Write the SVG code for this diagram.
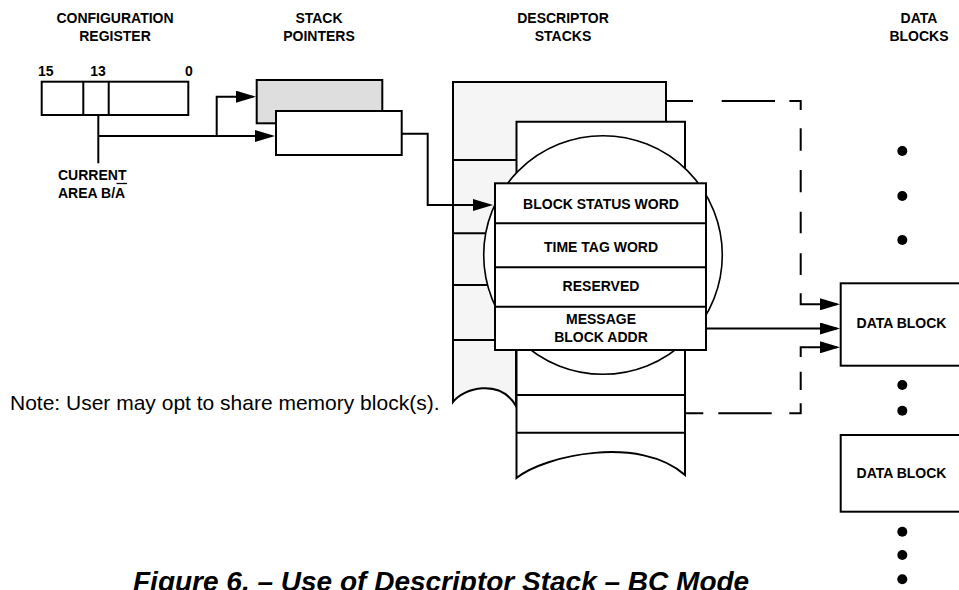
<svg xmlns="http://www.w3.org/2000/svg" width="959" height="590" viewBox="0 0 959 590">
<style>
.b{fill:none;stroke:#000;stroke-width:2}
.w{fill:#fff;stroke:#000;stroke-width:2}
.l{font-family:"Liberation Sans",Arial,sans-serif;font-weight:bold;font-size:14px;fill:#000}
.m{text-anchor:middle}
.c{fill:none;stroke:#000;stroke-width:2}
.d{fill:none;stroke:#000;stroke-width:2}
.dot{fill:#000}
</style>
<defs>
<marker id="ah" markerUnits="userSpaceOnUse" markerWidth="20" markerHeight="12" refX="17" refY="6" orient="auto" viewBox="0 0 20 12">
<path d="M0,0 L20,6 L0,12 Z" fill="#000"/>
</marker>
</defs>
<rect width="959" height="590" fill="#fff"/>

<g id="headers">
<text class="l m" x="115" y="22.5">CONFIGURATION</text>
<text class="l m" x="115" y="40.5">REGISTER</text>
<text class="l m" x="319" y="22.5">STACK</text>
<text class="l m" x="319" y="40.5">POINTERS</text>
<text class="l m" x="563" y="22.5">DESCRIPTOR</text>
<text class="l m" x="563" y="40.5">STACKS</text>
<text class="l m" x="919" y="22.5">DATA</text>
<text class="l m" x="919" y="40.5">BLOCKS</text>
</g>

<g id="config-register">
<text class="l" x="38" y="76">15</text>
<text class="l m" x="98" y="76">13</text>
<text class="l m" x="189" y="76">0</text>
<rect class="w" x="41.7" y="81.7" width="146.6" height="33.3"/>
<line class="b" x1="83.3" y1="81.7" x2="83.3" y2="115"/>
<line class="b" x1="108.7" y1="81.7" x2="108.7" y2="115"/>
<text class="l" x="58" y="180">CURRENT</text>
<text class="l" x="58" y="198.3">AREA B/A</text>
<line x1="116.5" y1="183.5" x2="127" y2="183.5" stroke="#000" stroke-width="1.3"/>
</g>

<g id="stack-pointers">
<rect x="256.7" y="80" width="125.6" height="43.3" fill="#dedede" stroke="#000" stroke-width="2"/>
<rect class="w" x="276" y="111" width="125.7" height="44"/>
</g>

<g id="descriptor-stacks">
<path d="M453,82 H666 V200 H516 V406 C500,378 463,388 453,402 Z" fill="#f5f5f5" stroke="#000" stroke-width="2"/>
<line class="b" x1="453" y1="160" x2="520" y2="160"/>
<line class="b" x1="453" y1="233.3" x2="500" y2="233.3"/>
<line class="b" x1="453" y1="285" x2="500" y2="285"/>
<line class="b" x1="453" y1="340" x2="500" y2="340"/>
<path d="M516.5,121.7 H685 V475 C640,435 545,455 516.5,478 Z" fill="#fff" stroke="#000" stroke-width="2"/>
<line class="b" x1="516.5" y1="395" x2="685" y2="395"/>
<line class="b" x1="516.5" y1="432.7" x2="685" y2="432.7"/>
<circle cx="603" cy="255" r="119.3" fill="#fff" stroke="#000" stroke-width="1.6"/>
<rect class="w" x="495" y="183.3" width="211" height="166.7"/>
<line class="b" x1="495" y1="223.3" x2="706" y2="223.3"/>
<line class="b" x1="495" y1="267.3" x2="706" y2="267.3"/>
<line class="b" x1="495" y1="306.7" x2="706" y2="306.7"/>
<text class="l m" x="601" y="209">BLOCK STATUS WORD</text>
<text class="l m" x="601" y="251.7">TIME TAG WORD</text>
<text class="l m" x="601" y="290.7">RESERVED</text>
<text class="l m" x="601" y="324">MESSAGE</text>
<text class="l m" x="601" y="342.3">BLOCK ADDR</text>
</g>

<g id="data-block-1">
<rect class="w" x="840.7" y="283.3" width="125" height="82.4"/>
<text class="l m" x="901.5" y="328.3">DATA BLOCK</text>
</g>

<g id="data-block-2">
<rect class="w" x="840.7" y="435" width="125" height="76.7"/>
<text class="l m" x="901.5" y="478.3">DATA BLOCK</text>
</g>

<g id="ellipsis-dots">
<circle class="dot" cx="902.3" cy="151" r="5"/>
<circle class="dot" cx="902.3" cy="196" r="5"/>
<circle class="dot" cx="902.3" cy="240" r="5"/>
<circle class="dot" cx="902.3" cy="385" r="5"/>
<circle class="dot" cx="902.3" cy="410.7" r="5"/>
<circle class="dot" cx="902.3" cy="531.7" r="5"/>
<circle class="dot" cx="902.3" cy="555" r="5"/>
<circle class="dot" cx="902.3" cy="579.3" r="5"/>
</g>

<g id="connectors">
<path class="c" d="M98.3,115 V163.3"/>
<path class="c" d="M98.3,136 H272" marker-end="url(#ah)"/>
<path class="c" d="M216.7,136 V96.7 H253" marker-end="url(#ah)"/>
<path class="c" d="M401.7,133.7 H427.7 V205 H490" marker-end="url(#ah)"/>
<path class="c" d="M706,328.5 H837" marker-end="url(#ah)"/>
<path class="d" d="M666.7,101 H800.7 V304.3 H837" stroke-dasharray="26.3 28.7 53.3 14.4 20.3 18.3 22.4 19.3 22.3 19.4 21.6 20 21.7 18.3 100" marker-end="url(#ah)"/>
<path class="d" d="M685,413.3 H800.7 V347.3 H837" stroke-dasharray="18.3 15 53.4 17.6 21.4 13.3 18.3 14.7 100" marker-end="url(#ah)"/>
</g>

<g id="note">
<text x="10" y="409.5" font-family="Liberation Sans, Arial, sans-serif" font-size="21">Note: User may opt to share memory block(s).</text>
</g>

<g id="caption">
<text x="133" y="591" font-family="Liberation Sans, Arial, sans-serif" font-size="28" font-weight="bold" font-style="italic">Figure 6. – Use of Descriptor Stack – BC Mode</text>
</g>
</svg>
